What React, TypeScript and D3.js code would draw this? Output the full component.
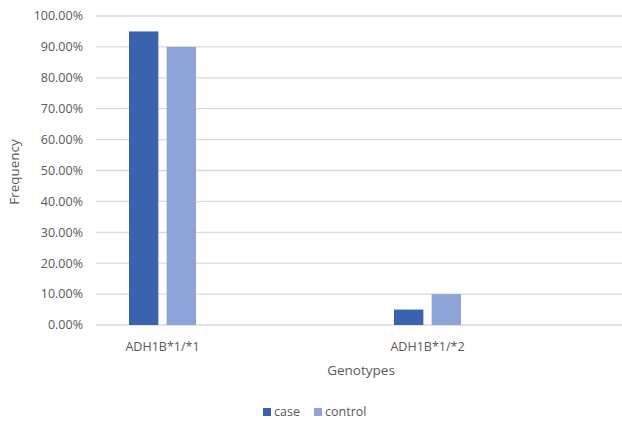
import React from "react";
import * as d3 from "d3";

const categories = ["ADH1B*1/*1", "ADH1B*1/*2"];
const seriesNames = ["case", "control"];
const caseValues = [0.95, 0.05];
const controlValues = [0.9, 0.1];
const yTicks = [0, 0.1, 0.2, 0.3, 0.4, 0.5, 0.6, 0.7, 0.8, 0.9, 1.0];
const colors = ["#3A62AF", "#8FA4D6"];

export default function App() {
  const W = 622, H = 423;
  const y = d3.scaleLinear().domain([0, 1]).range([325, 16]);
  const x = d3.scaleBand().domain(categories).range([30, 560]).paddingInner(0).paddingOuter(0);
  const inner = d3.scaleBand().domain(seriesNames).range([0, 67]).paddingInner(0.22);
  const series = [caseValues, controlValues];
  const font = "'Open Sans', 'Liberation Sans', sans-serif";
  const fmt = (v: number) => (v * 100).toFixed(2) + "%";
  return (
    <svg width={W} height={H} style={{ position: "absolute", left: 0, top: 0 }} fontFamily={font}>
      <rect width={W} height={H} fill="#fff" />
      {yTicks.map((t) => (
        <g key={t}>
          <line x1={96} x2={622} y1={y(t)} y2={y(t)} stroke="#D9D9D9" strokeWidth={1.3} />
          <text x={83} y={y(t)} dy="0.35em" textAnchor="end" fontSize={12.5} fill="#595959">{fmt(t)}</text>
        </g>
      ))}
      {categories.map((c, i) => {
        const cx = x(c)! + x.bandwidth() / 2;
        return (
          <g key={c}>
            {seriesNames.map((s, j) => (
              <rect key={s} x={cx - 33.5 + inner(s)!} width={inner.bandwidth()} y={y(series[j][i])} height={y(0) - y(series[j][i])} fill={colors[j]} />
            ))}
            <text x={cx} y={347} dy="0.35em" textAnchor="middle" fontSize={12.5} fill="#595959">{c}</text>
          </g>
        );
      })}
      <text x={361} y={370} dy="0.35em" textAnchor="middle" fontSize={13.5} fill="#595959">Genotypes</text>
      <text transform="translate(14,172) rotate(-90)" dy="0.35em" textAnchor="middle" fontSize={13.5} fill="#595959">Frequency</text>
      {seriesNames.map((s, j) => {
        const lx = [263, 314][j];
        return (
          <g key={s}>
            <rect x={lx} y={408} width={8} height={8} fill={colors[j]} />
            <text x={lx + 11} y={412} dy="0.35em" fontSize={12.5} fill="#595959">{s}</text>
          </g>
        );
      })}
    </svg>
  );
}
